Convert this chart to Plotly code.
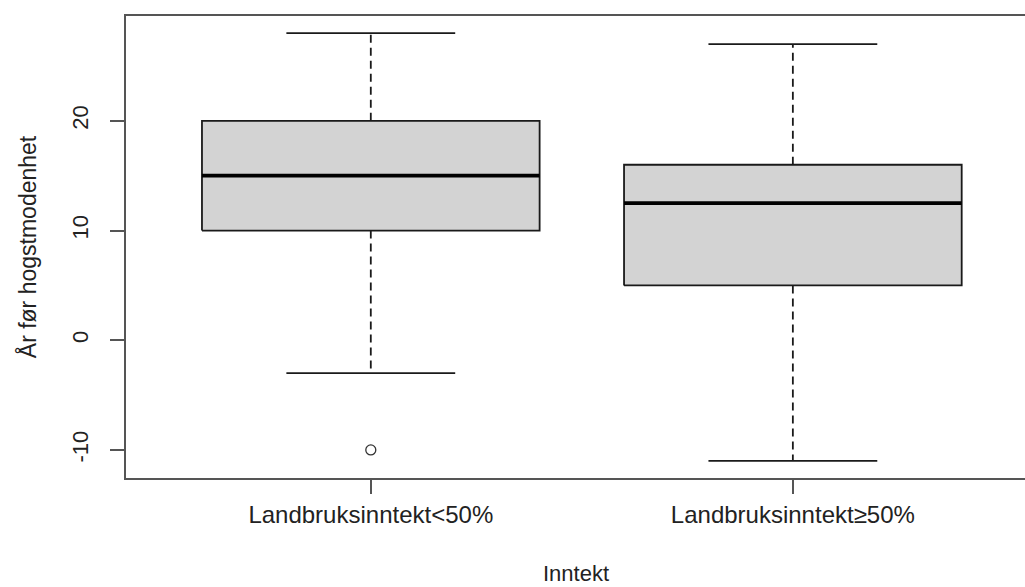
import plotly.graph_objects as go

categories = ["Landbruksinntekt<50%", "Landbruksinntekt≥50%"]
positions = [1, 2]
lower_whisker = [-3, -11]
q1 = [10, 5]
median = [15, 12.5]
q3 = [20, 16]
upper_whisker = [28, 27]
outliers = [[-10], []]
y_tick_values = [-10, 0, 10, 20]
y_tick_labels = ["-10", "0", "10", "20"]
x_title = "Inntekt"
y_title = "År før hogstmodenhet"

box_half = 0.4
cap_half = 0.2
line_col = "#1a1a1a"
frame_col = "#555555"

fig = go.Figure()
for i, p in enumerate(positions):
    # box
    fig.add_trace(go.Scatter(
        x=[p - box_half, p + box_half, p + box_half, p - box_half, p - box_half],
        y=[q1[i], q1[i], q3[i], q3[i], q1[i]],
        mode="lines", fill="toself", fillcolor="#d3d3d3",
        line=dict(color=line_col, width=1.8), hoverinfo="skip", showlegend=False))
    # median
    fig.add_trace(go.Scatter(
        x=[p - box_half, p + box_half], y=[median[i], median[i]],
        mode="lines", line=dict(color="#000000", width=3.8), showlegend=False))
    # whiskers
    fig.add_trace(go.Scatter(
        x=[p, p], y=[q3[i], upper_whisker[i]], mode="lines",
        line=dict(color=line_col, width=1.8, dash="8px,5px"), showlegend=False))
    fig.add_trace(go.Scatter(
        x=[p, p], y=[q1[i], lower_whisker[i]], mode="lines",
        line=dict(color=line_col, width=1.8, dash="8px,5px"), showlegend=False))
    # caps
    for w in (upper_whisker[i], lower_whisker[i]):
        fig.add_trace(go.Scatter(
            x=[p - cap_half, p + cap_half], y=[w, w], mode="lines",
            line=dict(color=line_col, width=1.8), showlegend=False))
    # outliers
    if outliers[i]:
        fig.add_trace(go.Scatter(
            x=[p] * len(outliers[i]), y=outliers[i], mode="markers",
            marker=dict(symbol="circle-open", size=10, color="#333333",
                        line=dict(width=1.3)), showlegend=False))

fam = "Liberation Sans, Arial, sans-serif"
font = dict(family=fam, size=23, color="#222222")

fig.add_annotation(
    text=x_title, xref="paper", yref="paper", x=0.5, y=-95 / 462,
    xanchor="center", yanchor="middle", showarrow=False,
    font=dict(family=fam, size=22, color="#222222"))

fig.update_layout(
    width=1025, height=587,
    margin=dict(l=126, r=0, t=16, b=109),
    paper_bgcolor="white", plot_bgcolor="white",
    font=font,
    xaxis=dict(
        range=[0.42, 2.55], tickmode="array", tickvals=positions, ticktext=categories,
        tickfont=dict(family=fam, size=24, color="#222222"),
        showgrid=False, zeroline=False, showline=True, linecolor=frame_col, linewidth=2,
        mirror=True, ticks="outside", ticklen=14, tickwidth=1.6, tickcolor=frame_col,
        ticklabelstandoff=0, automargin=False,
    ),
    yaxis=dict(
        range=[-12.56, 29.56], tickmode="array", tickvals=y_tick_values, ticktext=y_tick_labels,
        tickfont=dict(family=fam, size=22, color="#222222"),
        showgrid=False, zeroline=False, showline=True, linecolor=frame_col, linewidth=2,
        ticks="outside", ticklen=14, tickwidth=1.6, tickcolor=frame_col,
        tickangle=-90, ticklabelstandoff=13, automargin=False,
        title=dict(text=y_title, standoff=25, font=font),
    ),
)

fig.write_html(
    "out.html",
    config={"displayModeBar": False},
    post_script="document.body.style.margin='0';document.body.style.overflow='hidden';",
)
